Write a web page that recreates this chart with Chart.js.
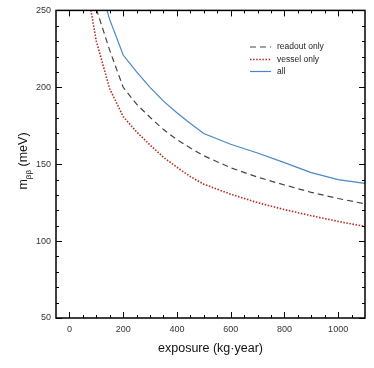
<!DOCTYPE html>
<html>
<head>
<meta charset="utf-8">
<script src="https://cdn.jsdelivr.net/npm/chart.js@4.4.1/dist/chart.umd.min.js"></script>
<style>
  html, body { margin: 0; padding: 0; background: #fff; }
  canvas { display: block; }
</style>
</head>
<body>
<canvas id="plot" width="374" height="368"></canvas>
<script>
// data
const exposure = [50, 100, 150, 200, 250, 300, 350, 400, 450, 500, 600, 700, 800, 900, 1000, 1100];
const readoutOnly = [null, 251, 224, 200, 189, 180.5, 172.5, 166, 160.5, 155.5, 147.7, 141.6, 136.5, 131.7, 127.7, 124.2];
const vesselOnly = [280, 230, 199, 181, 171, 162.5, 154.5, 148, 142, 137, 130.5, 125, 120.5, 116.5, 112.8, 109.5];
const allSources = [null, 273, 244, 221, 210, 200, 191, 183.5, 176.5, 170, 163, 157.3, 151, 144.5, 140, 137.5];

const xTicks = [0, 200, 400, 600, 800, 1000];
const yTicks = [50, 100, 150, 200, 250];
const seriesLabels = ['readout only', 'vessel only', 'all'];

const font = '"Liberation Sans", Arial, Helvetica, sans-serif';

function points(ys) {
  return exposure.map((x, i) => ({ x: x, y: ys[i] }));
}

// box, inward ticks, minor ticks
const frame = {
  id: 'frame',
  afterDraw(chart) {
    const { ctx, chartArea: a, scales: { x, y } } = chart;
    ctx.save();
    ctx.strokeStyle = '#000';
    ctx.lineWidth = 1;
    ctx.beginPath();
    for (let v = -50; v <= 1100; v += 50) {
      const px = Math.round(x.getPixelForValue(v)) + 0.5;
      if (px <= a.left + 1 || px >= a.right - 1) continue;
      const len = xTicks.includes(v) ? 6 : 3;
      ctx.moveTo(px, a.bottom); ctx.lineTo(px, a.bottom - len);
      ctx.moveTo(px, a.top); ctx.lineTo(px, a.top + len);
    }
    for (let v = 50; v <= 250; v += 10) {
      const py = Math.round(y.getPixelForValue(v)) + 0.5;
      const len = yTicks.includes(v) ? 6 : 3;
      ctx.moveTo(a.left, py); ctx.lineTo(a.left + len, py);
      ctx.moveTo(a.right, py); ctx.lineTo(a.right - len, py);
    }
    ctx.stroke();
    ctx.lineWidth = 1.5;
    ctx.strokeRect(a.left, a.top, a.right - a.left, a.bottom - a.top);
    ctx.restore();
  }
};

// legend in the upper right of the plot
const lineLegend = {
  id: 'lineLegend',
  afterDatasetsDraw(chart) {
    const ctx = chart.ctx;
    const rows = [47, 59.5, 71.5];
    ctx.save();
    ctx.font = '8.5px ' + font;
    ctx.textBaseline = 'middle';
    chart.data.datasets.forEach((ds, i) => {
      const yy = rows[i];
      ctx.strokeStyle = ds.borderColor;
      ctx.lineWidth = ds.borderWidth;
      ctx.setLineDash(ds.borderDash || []);
      ctx.beginPath();
      ctx.moveTo(250, yy);
      ctx.lineTo(271, yy);
      ctx.stroke();
      ctx.fillStyle = '#222';
      ctx.fillText(ds.label, 277, yy);
    });
    ctx.restore();
  }
};

// y axis title with subscript
const yTitle = {
  id: 'yTitle',
  afterDraw(chart) {
    const ctx = chart.ctx;
    const big = '12.5px ' + font;
    const small = '8px ' + font;
    ctx.save();
    ctx.fillStyle = '#111';
    ctx.font = big;
    const w1 = ctx.measureText('m').width;
    const w3 = ctx.measureText(' (meV)').width;
    ctx.font = small;
    const w2 = ctx.measureText('ββ').width;
    const total = w1 + w2 + w3;
    ctx.translate(27, 161);
    ctx.rotate(-Math.PI / 2);
    let cx = -total / 2;
    ctx.textBaseline = 'alphabetic';
    ctx.font = big;
    ctx.fillText('m', cx, 0);
    cx += w1;
    ctx.font = small;
    ctx.fillText('ββ', cx, 3.5);
    cx += w2;
    ctx.font = big;
    ctx.fillText(' (meV)', cx, 0);
    ctx.restore();
  }
};

new Chart(document.getElementById('plot'), {
  type: 'line',
  data: {
    datasets: [
      {
        label: seriesLabels[0],
        data: points(readoutOnly),
        borderColor: '#444444',
        borderWidth: 1.2,
        borderDash: [6, 4]
      },
      {
        label: seriesLabels[1],
        data: points(vesselOnly),
        borderColor: '#b8281e',
        borderWidth: 1.6,
        borderDash: [1.5, 1.6]
      },
      {
        label: seriesLabels[2],
        data: points(allSources),
        borderColor: '#4a87c6',
        borderWidth: 1.2
      }
    ]
  },
  options: {
    responsive: false,
    animation: false,
    events: [],
    layout: { padding: { top: 9, right: 9, left: 0, bottom: 0 } },
    elements: { point: { radius: 0 }, line: { tension: 0 } },
    plugins: { legend: { display: false }, tooltip: { enabled: false } },
    scales: {
      x: {
        type: 'linear',
        min: -50,
        max: 1100,
        grid: { display: false, drawTicks: false },
        border: { display: false },
        afterBuildTicks: s => { s.ticks = xTicks.map(v => ({ value: v })); },
        afterFit: s => { s.height = 50; },
        ticks: {
          autoSkip: false,
          maxRotation: 0,
          padding: 6,
          color: '#333',
          font: { family: font, size: 9 },
          callback: v => String(v)
        },
        title: {
          display: true,
          text: 'exposure (kg·year)',
          color: '#111',
          font: { family: font, size: 12.5 },
          padding: { top: 0, bottom: 12 }
        }
      },
      y: {
        type: 'linear',
        min: 50,
        max: 250,
        grid: { display: false, drawTicks: false },
        border: { display: false },
        afterBuildTicks: s => { s.ticks = yTicks.map(v => ({ value: v })); },
        afterFit: s => { s.width = 56; },
        ticks: {
          autoSkip: false,
          padding: 5,
          color: '#333',
          font: { family: font, size: 9 },
          callback: v => String(v)
        }
      }
    }
  },
  plugins: [frame, lineLegend, yTitle]
});
</script>
</body>
</html>
